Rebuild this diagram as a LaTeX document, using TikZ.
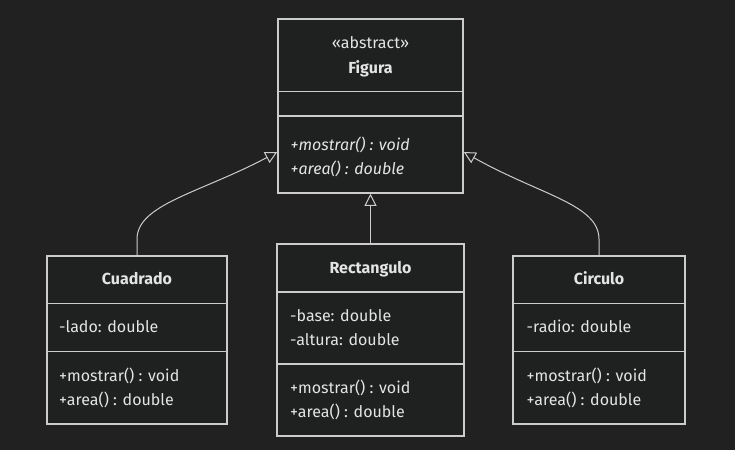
\documentclass[tikz,border=0pt]{standalone}
\usepackage{fontspec}
\setmainfont{Fira Sans}
\usetikzlibrary{arrows.meta}
\definecolor{bg}{HTML}{212121}
\definecolor{boxfill}{HTML}{1F2020}
\definecolor{edgec}{HTML}{CCCCCC}
\definecolor{txt}{HTML}{E4E4E4}
\begin{document}
\begin{tikzpicture}[x=1pt,y=-1pt,
  cls/.style={draw=edgec, fill=boxfill, line width=1.5pt, inner sep=0pt, rectangle},
  divider/.style={draw=edgec, line width=1.5pt},
  member/.style={anchor=base west, text=txt, inner sep=0pt, font=\fontsize{16}{19}\selectfont},
  title/.style={anchor=base, text=txt, inner sep=0pt, font=\fontsize{16}{19}\selectfont\bfseries},
  stereo/.style={anchor=base, text=txt, inner sep=0pt, font=\fontsize{16}{19}\selectfont},
  inherit/.style={draw=edgec, line width=1pt, -{Triangle[open, length=12pt, width=12pt]}}
]
\fill[bg] (0,0) rectangle (735,450);
\useasboundingbox (0,0) rectangle (735,450);

% Figura
\node[cls, minimum width=185pt, minimum height=174pt] (fig) at (370.5,106) {};
\draw[divider] (fig.west |- 0,91.7) -- (fig.east |- 0,91.7);
\draw[divider] (fig.west |- 0,116) -- (fig.east |- 0,116);
\node[stereo] (figst) at (370.5,48.3) {«abstract»};
\node[title] (figt) at (370.5,73.3) {Figura};
\node[member, font=\fontsize{16}{19}\selectfont\itshape] (figm1) at (290.5,150.7) {+mostrar() : void};
\node[member, font=\fontsize{16}{19}\selectfont\itshape] (figm2) at (290.5,174.7) {+area() : double};

% Cuadrado
\node[cls, minimum width=180pt, minimum height=168pt] (cua) at (137,340) {};
\draw[divider] (cua.west |- 0,303.3) -- (cua.east |- 0,303.3);
\draw[divider] (cua.west |- 0,351.7) -- (cua.east |- 0,351.7);
\node[title] (cuat) at (137,284.5) {Cuadrado};
\node[member] (cuaa1) at (59,332.7) {-lado: double};
\node[member] (cuam1) at (59,381) {+mostrar() : void};
\node[member] (cuam2) at (59,405) {+area() : double};

% Rectangulo
\node[cls, minimum width=187pt, minimum height=192pt] (rec) at (370.5,340) {};
\draw[divider] (rec.west |- 0,292) -- (rec.east |- 0,292);
\draw[divider] (rec.west |- 0,364) -- (rec.east |- 0,364);
\node[title] (rect) at (370.5,273.3) {Rectangulo};
\node[member] (reca1) at (290,321) {-base: double};
\node[member] (reca2) at (290,345) {-altura: double};
\node[member] (recm1) at (290,393) {+mostrar() : void};
\node[member] (recm2) at (290,417) {+area() : double};

% Circulo
\node[cls, minimum width=172pt, minimum height=168pt] (cir) at (599,340) {};
\draw[divider] (cir.west |- 0,303.3) -- (cir.east |- 0,303.3);
\draw[divider] (cir.west |- 0,351.7) -- (cir.east |- 0,351.7);
\node[title] (cirt) at (599,284.5) {Circulo};
\node[member] (cira1) at (526.5,332.7) {-radio: double};
\node[member] (cirm1) at (526.5,381) {+mostrar() : void};
\node[member] (cirm2) at (526.5,405) {+area() : double};

% connectors
\coordinate (figL) at ([yshift=-46pt]fig.west);
\coordinate (figR) at ([yshift=-46pt]fig.east);
\draw[inherit] (cua.north) -- ++(0,-16) .. controls +(0,-35) and (200,193) .. (figL);
\draw[inherit] (cir.north) -- ++(0,-16) .. controls +(0,-35) and (540,195) .. (figR);
\draw[inherit] (rec.north) -- (fig.south);
\end{tikzpicture}
\end{document}
